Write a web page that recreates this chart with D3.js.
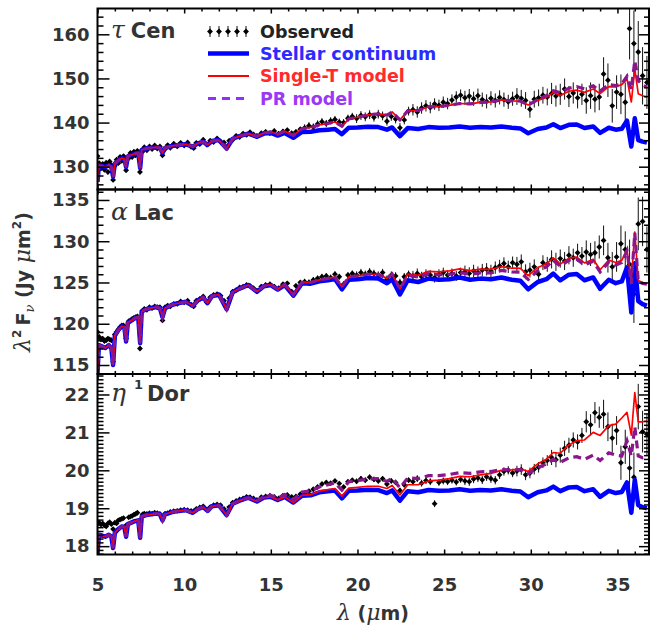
<!DOCTYPE html>
<html><head><meta charset="utf-8">
<script src="https://cdn.jsdelivr.net/npm/d3@7"></script>
<style>body{margin:0;background:#fff}svg{display:block}</style>
</head><body>
<svg id="c" width="651" height="627"></svg>
<script>
// ---------------- DATA ----------------
const modelLambda = [5.00,5.08,5.25,5.45,5.65,5.80,5.90,6.00,6.20,6.40,6.55,6.65,6.75,6.95,7.15,7.35,7.46,7.55,7.80,8.10,8.40,8.60,8.75,8.90,9.30,9.70,10.10,10.50,10.80,11.10,11.35,11.60,12.00,12.45,12.80,13.20,13.70,14.20,14.60,15.00,15.40,15.80,16.30,16.80,17.30,17.80,18.30,18.70,19.10,19.50,20.00,20.60,21.20,21.70,22.00,22.45,22.90,23.50,24.10,24.70,25.30,25.90,26.50,27.10,27.70,28.30,28.90,29.40,29.85,30.40,30.90,31.30,31.70,32.20,32.65,33.10,33.60,34.00,34.50,34.90,35.25,35.55,35.80,36.00,36.20,36.45,36.70];

const stellarTauCen = [126.6,130.3,130.15,129.93,130.3,129.93,127.73,130.67,131.40,131.92,131.77,129.93,132.36,132.65,132.95,133.09,129.71,133.83,134.12,134.27,134.42,134.27,133.09,134.27,134.71,134.93,135.08,134.56,135.30,135.67,134.93,135.81,136.03,134.12,136.33,136.92,137.50,136.77,137.50,137.65,137.06,137.65,136.55,137.87,137.94,138.24,138.39,138.53,137.36,138.83,138.90,139.05,138.97,138.39,138.90,136.92,138.75,138.53,138.97,138.83,138.90,139.12,138.83,138.97,138.90,139.12,138.83,138.68,137.58,138.53,138.90,139.63,138.75,139.49,139.56,138.75,139.12,137.65,138.83,138.39,138.61,140.44,134.56,140.96,136.03,135.67,135.45];
const singleTauCen = [126.6,130.3,130.15,129.93,130.3,129.93,127.73,130.67,131.40,131.92,131.77,129.93,132.36,132.65,132.95,133.09,129.71,133.83,134.12,134.27,134.42,134.27,133.09,134.27,134.71,134.93,135.08,134.56,135.30,135.67,134.93,135.81,136.03,134.12,136.33,136.92,137.50,136.87,137.65,137.85,137.36,138.05,137.10,138.62,138.89,139.44,139.79,140.13,139.16,140.83,141.20,141.75,141.97,141.69,142.40,140.62,142.65,142.73,143.57,143.63,143.90,144.32,144.23,144.57,144.70,145.12,144.93,144.88,143.98,145.03,145.70,146.83,146.15,147.09,147.36,146.85,147.62,146.55,148.13,148.09,148.61,149.94,144.66,152.16,146.53,146.07,145.75];
const prTauCen = [126.6,130.3,130.15,129.93,130.3,129.93,127.73,130.67,131.40,131.92,131.77,129.93,132.36,132.65,132.95,133.09,129.71,133.83,134.12,134.27,134.42,134.27,133.09,134.27,134.71,134.93,135.08,134.56,135.30,135.67,134.93,135.81,136.03,134.12,136.33,136.92,137.50,136.87,137.65,137.85,137.36,138.05,137.10,138.62,138.89,139.44,139.79,140.13,139.16,140.83,141.20,141.75,141.97,141.69,142.40,140.62,142.65,142.73,143.57,143.63,143.90,144.32,144.23,144.57,144.70,145.12,144.93,144.88,143.98,145.23,146.10,147.23,146.75,147.79,148.16,147.65,148.32,147.15,148.63,148.39,148.81,150.5,147.5,154.0,149.5,148.5,148.0];

const stellarAlpLac = [114.0,117.4,117.26,117.06,117.4,117.06,115.01,118.54,119.23,119.70,119.57,117.86,120.12,120.39,120.66,120.80,117.65,121.48,121.76,121.89,122.03,121.89,120.80,121.89,122.30,122.51,122.65,122.17,122.85,123.19,122.51,123.33,123.54,121.76,123.81,124.26,124.70,123.87,124.55,124.69,124.14,124.69,123.40,124.90,124.86,125.14,125.27,125.41,124.17,125.33,125.40,125.54,125.47,124.92,125.40,123.56,125.27,125.06,125.47,125.33,125.40,125.61,125.33,125.47,125.40,125.61,125.33,125.20,124.17,125.06,125.40,126.09,125.27,125.95,126.02,125.27,125.61,124.24,125.33,124.92,125.13,126.84,121.37,127.32,122.74,122.39,122.19];
const singleAlpLac = [114.0,117.4,117.26,117.06,117.4,117.06,115.01,118.54,119.23,119.70,119.57,117.86,120.12,120.39,120.66,120.80,117.65,121.48,121.76,121.89,122.03,121.89,120.80,121.89,122.30,122.51,122.65,122.17,122.85,123.19,122.51,123.33,123.54,121.76,123.81,124.26,124.70,123.89,124.58,124.73,124.19,124.76,123.49,125.02,125.01,125.32,125.49,125.67,124.47,125.67,125.80,126.00,125.99,125.50,126.02,124.24,126.01,125.86,126.35,126.28,126.40,126.66,126.43,126.62,126.60,126.91,126.73,126.70,125.82,126.81,127.25,127.99,127.22,127.95,128.07,127.37,127.81,126.54,127.73,127.42,127.68,128.94,125.37,131.12,125.24,124.99,124.89];
const prAlpLac = [114.0,117.4,117.26,117.06,117.4,117.06,115.01,118.54,119.23,119.70,119.57,117.86,120.12,120.39,120.66,120.80,117.65,121.48,121.76,121.89,122.03,121.89,120.80,121.89,122.30,122.51,122.65,122.17,122.85,123.19,122.51,123.33,123.54,121.76,123.81,124.26,124.70,123.89,124.58,124.73,124.19,124.76,123.49,125.02,125.01,125.32,125.49,125.67,124.47,125.67,125.80,126.00,125.99,125.50,126.02,124.24,125.87,125.66,126.07,125.93,126.00,126.21,125.98,126.17,126.15,126.46,126.28,126.25,125.37,126.41,126.90,127.69,126.97,127.70,127.82,127.12,127.56,126.29,127.48,127.12,127.43,128.84,124.87,131.02,125.14,124.89,124.79];

const stellarEtaDor = [17.80,18.30,18.28,18.25,18.30,18.25,17.95,18.35,18.45,18.52,18.50,18.25,18.58,18.62,18.66,18.68,18.22,18.78,18.82,18.84,18.86,18.84,18.68,18.84,18.90,18.93,18.95,18.88,18.98,19.03,18.93,19.05,19.08,18.82,19.12,19.20,19.28,19.18,19.28,19.30,19.22,19.30,19.15,19.33,19.34,19.42,19.45,19.47,19.26,19.46,19.47,19.49,19.48,19.40,19.47,19.20,19.45,19.42,19.48,19.46,19.47,19.50,19.46,19.48,19.47,19.50,19.46,19.44,19.29,19.42,19.47,19.57,19.45,19.55,19.56,19.45,19.50,19.30,19.46,19.40,19.43,19.68,18.88,19.75,19.08,19.03,19.00];
const singleEtaDor = [17.80,18.30,18.28,18.25,18.30,18.25,17.95,18.35,18.45,18.52,18.50,18.25,18.58,18.62,18.66,18.68,18.22,18.78,18.82,18.84,18.86,18.84,18.68,18.84,18.90,18.93,18.95,18.88,18.98,19.03,18.93,19.05,19.08,18.82,19.12,19.20,19.28,19.18,19.28,19.30,19.22,19.30,19.15,19.34,19.36,19.45,19.49,19.52,19.32,19.53,19.55,19.58,19.58,19.52,19.60,19.35,19.62,19.62,19.72,19.74,19.78,19.84,19.83,19.88,19.92,20.00,20.01,20.04,19.97,20.17,20.29,20.47,20.45,20.67,20.78,20.80,21.00,20.92,21.18,21.22,21.38,21.53,20.93,22.05,21.28,21.28,21.30];
const prEtaDor = [17.80,18.30,18.28,18.25,18.30,18.25,17.95,18.35,18.45,18.52,18.50,18.25,18.58,18.62,18.66,18.68,18.22,18.78,18.82,18.84,18.86,18.84,18.68,18.84,18.90,18.93,18.95,18.88,18.98,19.03,18.93,19.05,19.08,18.82,19.12,19.20,19.28,19.20,19.31,19.34,19.27,19.36,19.23,19.43,19.46,19.56,19.62,19.67,19.48,19.70,19.73,19.77,19.78,19.71,19.79,19.54,19.80,19.78,19.86,19.86,19.89,19.94,19.92,19.96,19.97,20.02,20.01,20.02,19.91,20.07,20.17,20.29,20.21,20.33,20.36,20.29,20.40,20.26,20.46,20.40,20.38,20.78,20.38,21.15,20.38,20.33,20.35];

const obsLambda = [5.0,5.1,5.2,5.3,5.4,5.5,5.6,5.7,5.8,5.9,6.0,6.1,6.2,6.3,6.4,6.5,6.65,6.8,6.9,7.0,7.1,7.2,7.3,7.45,7.6,7.7,7.85,8.0,8.15,8.3,8.45,8.6,8.75,8.9,9.05,9.2,9.4,9.6,9.8,10.0,10.2,10.4,10.55,10.7,10.9,11.1,11.3,11.5,11.7,11.9,12.1,12.3,12.45,12.6,12.8,13.0,13.2,13.4,13.6,13.8,14.0,
14.2,14.45,14.7,14.95,15.2,15.45,15.7,15.95,16.2,16.45,16.7,16.95,17.2,17.45,17.7,17.95,18.2,18.45,18.7,18.95,19.2,19.45,19.7,19.95,20.2,20.45,20.7,20.95,21.2,21.45,21.7,21.95,22.2,22.45,22.7,22.95,23.2,23.45,23.7,23.95,24.2,24.45,24.7,24.95,25.2,25.45,25.7,25.95,26.2,26.45,26.7,26.95,27.2,27.45,27.7,27.95,28.2,28.45,28.7,28.95,29.2,29.45,29.7,29.95,30.2,30.45,30.7,30.95,31.2,31.45,31.7,31.95,32.2,32.45,32.7,32.95,33.2,33.45,33.7,33.95,34.2,34.45,34.7,34.95,35.2,35.45,35.7,35.95,36.2,36.45,36.7];

const obsTauCen = [132.4,130.8,129.6,130.6,129.3,130.9,128.8,131.2,130.4,127.0,130.2,131.6,130.8,132.2,131.3,132.4,129.2,131.9,133.1,132.2,133.4,132.6,133.6,128.8,133.4,134.4,133.7,134.6,134.0,134.8,134.1,134.6,132.6,134.0,134.9,134.3,135.2,134.6,135.4,134.8,135.5,134.5,134.2,135.4,135.1,136.1,135.0,135.9,135.6,136.4,135.7,135.5,134.4,135.9,136.1,137.0,136.7,137.5,137.2,137.8,137.3,
137.0,137.6,137.9,137.6,138.1,137.5,138.0,138.3,137.6,137.9,138.5,138.8,139.3,139.0,139.7,140.2,139.8,140.4,140.7,140.1,140.0,141.0,141.4,140.9,141.6,141.3,141.8,141.2,141.9,141.5,140.3,141.4,140.8,138.8,140.6,142.6,142.9,142.4,143.3,143.8,143.4,144.2,143.9,144.6,144.3,145.1,145.8,146.2,145.6,146.0,145.4,146.1,145.2,144.8,145.5,145.0,145.7,145.2,144.7,145.4,145.9,145.5,145.0,143.0,145.3,145.6,146.2,145.8,146.6,146.0,146.4,147.6,145.9,146.7,145.6,146.4,145.0,146.1,145.3,145.8,151.0,149.6,143.8,146.9,146.4,144.6,161.3,157.9,156.0,150.6,149.1];
const errTauCen = [1.0,0.45,0.4,0.45,0.4,0.45,0.5,0.4,0.4,0.5,0.4,0.35,0.35,0.4,0.35,0.35,0.4,0.35,0.35,0.3,0.35,0.3,0.35,0.4,0.3,0.3,0.3,0.3,0.3,0.3,0.3,0.3,0.35,0.3,0.3,0.3,0.3,0.3,0.3,0.3,0.3,0.3,0.3,0.3,0.3,0.3,0.3,0.3,0.3,0.3,0.3,0.3,0.35,0.3,0.3,0.35,0.35,0.35,0.35,0.4,0.4,
0.5,0.5,0.5,0.5,0.5,0.5,0.5,0.5,0.5,0.5,0.5,0.8,0.8,0.8,0.8,0.8,0.8,0.8,0.8,0.8,0.8,0.8,0.8,1.0,1.0,1.0,1.0,1.0,1.0,1.0,1.0,1.0,1.0,1.1,1.0,1.0,1.3,1.3,1.3,1.3,1.3,1.3,1.3,1.3,1.3,1.3,1.3,1.3,1.6,1.6,1.6,1.6,1.6,1.6,1.6,1.6,1.6,1.6,1.6,1.6,1.9,1.9,1.9,1.9,1.9,1.9,1.9,1.9,2.4,2.4,2.4,2.4,2.4,2.4,2.4,2.4,3.0,3.0,3.0,3.0,3.8,3.8,3.8,3.8,4.5,4.5,7.0,7.5,7.0,6.5,6.0];

const obsAlpLac = [119.0,118.4,118.1,118.2,117.9,118.0,118.2,118.1,118.0,115.4,118.7,119.0,119.3,119.6,119.8,119.8,118.2,120.3,120.4,120.6,120.7,120.8,120.9,117.0,121.6,121.8,121.7,122.0,121.9,122.1,122.0,122.0,120.4,122.0,122.2,122.1,122.4,122.4,122.7,122.6,122.8,122.3,122.1,122.8,123.0,123.3,122.6,123.2,123.5,123.6,123.4,122.8,122.0,123.1,123.9,124.1,124.4,124.5,124.7,124.6,124.3,
124.0,124.5,124.7,124.8,124.5,124.3,124.8,124.9,123.9,124.6,125.0,125.1,125.0,125.3,125.5,125.7,125.8,125.6,126.0,125.7,124.8,125.9,126.1,125.9,126.2,126.0,126.3,126.1,125.9,126.2,125.4,125.9,125.8,125.0,125.7,126.0,125.8,126.1,125.7,126.0,125.9,125.6,126.0,126.2,125.9,126.1,125.8,126.2,126.3,126.1,126.4,126.2,126.5,126.6,126.4,126.8,127.0,127.3,126.9,127.4,127.2,127.5,126.3,126.5,126.9,126.0,127.4,127.2,127.8,127.5,127.9,127.6,128.3,128.0,128.6,128.2,128.7,128.4,128.6,129.3,130.1,128.0,126.9,128.1,129.7,129.0,127.2,123.6,132.1,132.4,129.0];
const errAlpLac = [0.5,0.3,0.25,0.25,0.25,0.25,0.25,0.25,0.25,0.3,0.25,0.2,0.2,0.2,0.2,0.2,0.25,0.2,0.2,0.2,0.2,0.2,0.2,0.25,0.2,0.2,0.2,0.2,0.2,0.2,0.2,0.2,0.25,0.2,0.2,0.2,0.2,0.2,0.2,0.2,0.2,0.2,0.2,0.2,0.2,0.2,0.2,0.2,0.2,0.2,0.2,0.2,0.25,0.2,0.2,0.2,0.2,0.2,0.2,0.2,0.25,
0.25,0.25,0.25,0.25,0.25,0.25,0.25,0.25,0.25,0.25,0.25,0.35,0.35,0.35,0.35,0.35,0.35,0.35,0.35,0.35,0.35,0.35,0.35,0.45,0.45,0.45,0.45,0.45,0.45,0.45,0.45,0.45,0.45,0.45,0.45,0.45,0.6,0.6,0.6,0.6,0.6,0.6,0.6,0.6,0.6,0.6,0.6,0.6,0.75,0.75,0.75,0.75,0.75,0.75,0.75,0.75,0.75,0.75,0.75,0.75,0.9,0.9,0.9,0.9,0.9,0.9,0.9,0.9,1.1,1.1,1.1,1.1,1.1,1.1,1.1,1.1,1.4,1.4,1.4,1.4,1.8,1.8,1.8,1.8,2.2,2.2,3.0,3.5,3.2,3.0,2.8];

const obsEtaDor = [18.58,18.62,18.57,18.60,18.55,18.52,18.60,18.63,18.58,18.45,18.62,18.60,18.68,18.70,18.72,18.74,18.55,18.76,18.78,18.80,18.83,18.85,18.88,18.60,18.84,18.86,18.85,18.87,18.86,18.88,18.87,18.85,18.72,18.86,18.87,18.90,18.92,18.93,18.95,18.96,18.95,18.93,18.92,18.98,19.02,19.05,18.97,19.03,19.08,19.10,19.08,18.98,18.88,19.03,19.15,19.19,19.23,19.26,19.30,19.29,19.26,
19.22,19.29,19.31,19.33,19.30,19.26,19.33,19.35,19.30,19.31,19.37,19.40,19.45,19.50,19.56,19.64,19.68,19.66,19.72,19.65,19.56,19.70,19.74,19.71,19.78,19.74,19.82,19.76,19.72,19.78,19.64,19.72,19.68,19.47,19.62,19.74,19.70,19.78,19.66,19.73,19.70,19.12,19.68,19.72,19.70,19.74,19.69,19.76,19.72,19.70,19.77,19.80,19.75,19.83,19.78,19.74,19.88,19.97,20.00,19.93,19.98,20.02,19.88,19.93,20.03,20.08,20.20,20.26,20.34,20.28,20.40,20.58,20.66,20.80,20.75,20.92,21.28,21.20,21.52,21.40,21.48,21.15,20.85,21.05,20.20,20.62,20.06,19.82,21.68,21.02,20.95];
const errEtaDor = [0.08,0.04,0.04,0.04,0.04,0.04,0.04,0.04,0.04,0.05,0.04,0.03,0.03,0.03,0.03,0.03,0.04,0.03,0.03,0.03,0.03,0.03,0.03,0.04,0.03,0.03,0.03,0.03,0.03,0.03,0.03,0.03,0.04,0.03,0.03,0.03,0.03,0.03,0.03,0.03,0.03,0.03,0.03,0.03,0.03,0.03,0.03,0.03,0.03,0.03,0.03,0.03,0.04,0.03,0.03,0.03,0.03,0.03,0.03,0.03,0.03,
0.03,0.03,0.03,0.03,0.03,0.03,0.03,0.03,0.03,0.03,0.03,0.05,0.05,0.05,0.05,0.05,0.05,0.05,0.05,0.05,0.05,0.05,0.05,0.07,0.07,0.07,0.07,0.07,0.07,0.07,0.07,0.07,0.07,0.07,0.07,0.07,0.09,0.09,0.09,0.09,0.09,0.09,0.09,0.09,0.09,0.09,0.09,0.09,0.11,0.11,0.11,0.11,0.11,0.11,0.11,0.11,0.11,0.11,0.11,0.11,0.14,0.14,0.14,0.14,0.14,0.14,0.14,0.14,0.2,0.2,0.2,0.2,0.2,0.2,0.2,0.2,0.28,0.28,0.28,0.28,0.38,0.38,0.38,0.38,0.45,0.45,0.6,0.65,0.6,0.55,0.55];

const xTicks = [5,10,15,20,25,30,35];
const yTicksTauCen = [130,140,150,160];
const yTicksAlpLac = [115,120,125,130,135];
const yTicksEtaDor = [18,19,20,21,22];
const legendLabels = ["Observed","Stellar continuum","Single-T model","PR model"];

// ---------------- LAYOUT ----------------
const L = 97.5, R = 649;
const SANS = "'DejaVu Sans', Verdana, sans-serif";
const SERIF = "'DejaVu Serif', 'Liberation Serif', serif";
const GRAY = "#333";
const svg = d3.select("#c");
const x = d3.scaleLinear().domain([5, 36.82]).range([L, R]);

const panels = [
  {greek:"τ", name:"Cen", sup:"", top:8.5, bottom:189.5, domain:[124.83,165.85], ticks:yTicksTauCen, minor:2,
   st:stellarTauCen, si:singleTauCen, pr:prTauCen, ob:obsTauCen, er:errTauCen, lblY:38},
  {greek:"α", name:"Lac", sup:"", top:189.5, bottom:374, domain:[113.91,136.27], ticks:yTicksAlpLac, minor:1,
   st:stellarAlpLac, si:singleAlpLac, pr:prAlpLac, ob:obsAlpLac, er:errAlpLac, lblY:220},
  {greek:"η", name:"Dor", sup:"1", top:374, bottom:554.5, domain:[17.78,22.54], ticks:yTicksEtaDor, minor:0.1,
   st:stellarEtaDor, si:singleEtaDor, pr:prEtaDor, ob:obsEtaDor, er:errEtaDor, lblY:401}
];

function minorVals(domain, step, majors){
  const out=[]; const s=Math.ceil(domain[0]/step-1e-9), e=Math.floor(domain[1]/step+1e-9);
  for(let k=s;k<=e;k++){const v=+(k*step).toFixed(6); if(!majors.some(m=>Math.abs(m-v)<1e-6)) out.push(v);}
  return out;
}
function styleAxis(g){
  g.select(".domain").remove();
  g.selectAll("line").attr("stroke","#000").attr("stroke-width",1.5);
  g.selectAll("text").attr("font-family",SANS).attr("font-weight","bold").attr("font-size",18).attr("fill",GRAY);
}
const xMinor = minorVals([5,36.82],1,xTicks);

panels.forEach((p,i)=>{
  const y = d3.scaleLinear().domain(p.domain).range([p.bottom, p.top]);
  const clipId = "clip"+i;
  svg.append("clipPath").attr("id",clipId).append("rect")
    .attr("x",L).attr("y",p.top).attr("width",R-L).attr("height",p.bottom-p.top);
  const plot = svg.append("g").attr("clip-path",`url(#${clipId})`);

  const obs = obsLambda.map((l,j)=>({l, v:p.ob[j], e:p.er[j]}));
  plot.append("g").selectAll("line").data(obs).join("line")
    .attr("x1",d=>x(d.l)).attr("x2",d=>x(d.l))
    .attr("y1",d=>y(d.v-d.e)).attr("y2",d=>y(d.v+d.e))
    .attr("stroke","#111").attr("stroke-width",1);
  const sym = d3.symbol(d3.symbolSquare, 17);
  plot.append("g").selectAll("path").data(obs).join("path")
    .attr("d",sym).attr("transform",d=>`translate(${x(d.l)},${y(d.v)}) rotate(45)`).attr("fill","#000");

  const line = d3.line().x((d,j)=>x(modelLambda[j])).y(d=>y(d));
  plot.append("path").attr("d",line(p.st)).attr("fill","none").attr("stroke","#0000ff")
    .attr("stroke-width",4.5).attr("stroke-linejoin","round");
  plot.append("path").attr("d",line(p.si)).attr("fill","none").attr("stroke","#ff0000")
    .attr("stroke-width",1.7).attr("stroke-linejoin","round");
  plot.append("path").attr("d",line(p.pr)).attr("fill","none").attr("stroke","#8a168c")
    .attr("stroke-width",3.2).attr("stroke-dasharray","8,5");

  // axes
  const ym = minorVals(p.domain, p.minor, p.ticks);
  svg.append("g").attr("transform",`translate(${L},0)`)
    .call(d3.axisLeft(y).tickValues(p.ticks).tickSize(-12).tickPadding(8).tickFormat(d3.format("d"))).call(styleAxis);
  svg.append("g").attr("transform",`translate(${L},0)`)
    .call(d3.axisLeft(y).tickValues(ym).tickSize(-6).tickFormat("")).call(styleAxis);
  svg.append("g").attr("transform",`translate(${R},0)`)
    .call(d3.axisRight(y).tickValues(p.ticks).tickSize(-10).tickFormat("")).call(styleAxis);
  svg.append("g").attr("transform",`translate(${R},0)`)
    .call(d3.axisRight(y).tickValues(ym).tickSize(-5).tickFormat("")).call(styleAxis);
  svg.append("g").attr("transform",`translate(0,${p.top})`)
    .call(d3.axisTop(x).tickValues(xTicks).tickSize(-5).tickFormat("")).call(styleAxis);
  svg.append("g").attr("transform",`translate(0,${p.top})`)
    .call(d3.axisTop(x).tickValues(xMinor).tickSize(-3).tickFormat("")).call(styleAxis);
  const bot = d3.axisBottom(x).tickValues(xTicks).tickSize(-5)
    .tickFormat(i===2 ? d3.format("d") : "").tickPadding(24);
  svg.append("g").attr("transform",`translate(0,${p.bottom})`).call(bot).call(styleAxis);
  svg.append("g").attr("transform",`translate(0,${p.bottom})`)
    .call(d3.axisBottom(x).tickValues(xMinor).tickSize(-3).tickFormat("")).call(styleAxis);

  svg.append("rect").attr("x",L).attr("y",p.top).attr("width",R-L).attr("height",p.bottom-p.top)
    .attr("fill","none").attr("stroke","#000").attr("stroke-width",2);

  // panel label
  const t = svg.append("text").attr("x",111).attr("y",p.lblY).attr("fill",GRAY);
  t.append("tspan").attr("font-family",SERIF).attr("font-style","italic").attr("font-size",25).text(p.greek);
  if(p.sup){
    t.append("tspan").attr("font-family",SANS).attr("font-weight","bold").attr("font-size",13).attr("dx",8).attr("dy",-12).text(p.sup);
    t.append("tspan").attr("font-family",SANS).attr("font-weight","bold").attr("font-size",21).attr("dx",4).attr("dy",12).text(p.name);
  } else {
    t.append("tspan").attr("font-family",SANS).attr("font-weight","bold").attr("font-size",21).attr("dx",6).text(p.name);
  }
});

// ---------------- LEGEND ----------------
const lg = svg.append("g");
[210,219,228,237,246].forEach(cx=>{
  lg.append("line").attr("x1",cx).attr("x2",cx).attr("y1",26).attr("y2",37).attr("stroke","#111").attr("stroke-width",1);
  lg.append("path").attr("d",d3.symbol(d3.symbolSquare,17)).attr("transform",`translate(${cx},31.5) rotate(45)`).attr("fill","#000");
});
lg.append("line").attr("x1",208).attr("x2",249).attr("y1",53.5).attr("y2",53.5).attr("stroke","#0000ff").attr("stroke-width",4.5);
lg.append("line").attr("x1",208).attr("x2",249).attr("y1",76).attr("y2",76).attr("stroke","#ff0000").attr("stroke-width",2);
lg.append("line").attr("x1",208).attr("x2",249).attr("y1",98.5).attr("y2",98.5).attr("stroke","#9030ff").attr("stroke-width",3.2).attr("stroke-dasharray","8,6");
const legCols = ["#222","#2b2bff","#ff2b2b","#9b38f5"];
const legY = [38,60,82,104.5];
legendLabels.forEach((s,k)=>{
  lg.append("text").attr("x",260).attr("y",legY[k]).attr("font-family",SANS).attr("font-weight","bold")
    .attr("font-size",17.5).attr("fill",legCols[k]).text(s);
});

// ---------------- AXIS TITLES ----------------
const xt = svg.append("text").attr("x",373).attr("y",620).attr("text-anchor","middle").attr("fill",GRAY);
xt.append("tspan").attr("font-family",SERIF).attr("font-style","italic").attr("font-size",22).text("λ");
xt.append("tspan").attr("font-family",SANS).attr("font-weight","bold").attr("font-size",19).text(" (");
xt.append("tspan").attr("font-family",SERIF).attr("font-style","italic").attr("font-size",22).text("μ");
xt.append("tspan").attr("font-family",SANS).attr("font-weight","bold").attr("font-size",19).text("m)");

const yt = svg.append("text").attr("transform","translate(30,282) rotate(-90)").attr("text-anchor","middle").attr("fill",GRAY);
yt.append("tspan").attr("font-family",SERIF).attr("font-style","italic").attr("font-size",22).text("λ");
yt.append("tspan").attr("font-family",SANS).attr("font-weight","bold").attr("font-size",12).attr("dy",-9).text("2");
yt.append("tspan").attr("font-family",SANS).attr("font-weight","bold").attr("font-size",19).attr("dy",9).attr("dx",4).text("F");
yt.append("tspan").attr("font-family",SERIF).attr("font-style","italic").attr("font-size",13).attr("dy",4).text("ν");
yt.append("tspan").attr("font-family",SANS).attr("font-weight","bold").attr("font-size",19).attr("dy",-4).text(" (Jy ");
yt.append("tspan").attr("font-family",SERIF).attr("font-style","italic").attr("font-size",22).text("μ");
yt.append("tspan").attr("font-family",SANS).attr("font-weight","bold").attr("font-size",19).text("m");
yt.append("tspan").attr("font-family",SANS).attr("font-weight","bold").attr("font-size",12).attr("dy",-9).text("2");
yt.append("tspan").attr("font-family",SANS).attr("font-weight","bold").attr("font-size",19).attr("dy",9).text(")");
</script>
</body></html>
